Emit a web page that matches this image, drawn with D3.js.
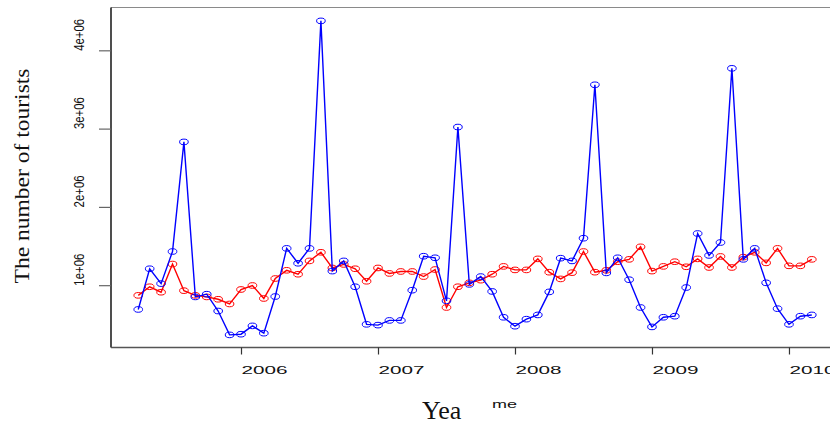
<!DOCTYPE html>
<html>
<head>
<meta charset="utf-8">
<script src="https://cdn.jsdelivr.net/npm/d3@7"></script>
<style>
  body { margin: 0; background: #fff; }
  svg { display: block; }
</style>
</head>
<body>
<svg id="drawing_region"></svg>
<script>
// monthly series, first observation April 2005
const startYear = 2005.25;
const blueSeries = [690000, 1210000, 1020000, 1430000, 2830000, 850000, 885000, 670000, 365000, 374000, 480000, 387000,
                    855000, 1470000, 1280000, 1470000, 4376000, 1180000, 1310000, 980000, 500000, 490000, 550000, 550000,
                    936000, 1370000, 1350000, 800000, 3020000, 1010000, 1110000, 920000, 590000, 476000, 566000, 620000,
                    914000, 1345000, 1310000, 1600000, 3560000, 1157000, 1350000, 1070000, 715000, 467000, 590000, 604000,
                    970000, 1660000, 1380000, 1545000, 3770000, 1330000, 1470000, 1030000, 700000, 500000, 604000, 620000];
const redSeries = [870000, 980000, 910000, 1270000, 930000, 870000, 850000, 820000, 760000, 945000, 996000, 830000,
                   1085000, 1190000, 1140000, 1310000, 1420000, 1220000, 1265000, 1210000, 1050000, 1220000, 1150000, 1175000,
                   1175000, 1110000, 1200000, 715000, 980000, 1030000, 1064000, 1140000, 1240000, 1195000, 1195000, 1336000,
                   1166000, 1080000, 1160000, 1430000, 1166000, 1190000, 1300000, 1330000, 1490000, 1180000, 1240000, 1300000,
                   1235000, 1336000, 1226000, 1367000, 1226000, 1358000, 1420000, 1285000, 1470000, 1247000, 1247000, 1330000];
const xTicks = [2006, 2007, 2008, 2009, 2010];
const yTicks = [1000000, 2000000, 3000000, 4000000];
const yTickLabels = ["1e+06", "2e+06", "3e+06", "4e+06"];

const config = {
    width: 830,
    height: 421,
    box: {left: 111, top: 7.5, right: 838.7, bottom: 347.5}
};

const svg = d3.select('#drawing_region')
    .attr('width', config.width)
    .attr('height', config.height);

const toData = vals => vals.map((v, i) => ({t: startYear + i / 12, v: v}));
const blueData = toData(blueSeries);
const redData = toData(redSeries);

const xscale = d3.scaleLinear()
    .domain([2005.051, 2010.363])
    .range([config.box.left, config.box.right]);

const yscale = d3.scaleLinear()
    .domain([204000, 4547000])
    .range([config.box.bottom, config.box.top]);

// plot frame
svg.append('line')
    .attr('x1', config.box.left).attr('x2', config.box.right)
    .attr('y1', config.box.top).attr('y2', config.box.top)
    .attr('stroke', '#8a8a8a').attr('stroke-width', 1.2);
svg.append('line')
    .attr('x1', config.box.left).attr('x2', config.box.left)
    .attr('y1', config.box.top).attr('y2', config.box.bottom)
    .attr('stroke', '#222').attr('stroke-width', 1.6);
svg.append('line')
    .attr('x1', config.box.left).attr('x2', config.box.right)
    .attr('y1', config.box.bottom).attr('y2', config.box.bottom)
    .attr('stroke', '#555').attr('stroke-width', 1.6);

// x axis
const xaxis = d3.axisBottom(xscale)
    .tickValues(xTicks)
    .tickFormat(d3.format('d'))
    .tickSize(7)
    .tickSizeOuter(0);

const xaxis_group = svg.append('g')
    .attr('transform', `translate(0, ${config.box.bottom})`)
    .call(xaxis);
xaxis_group.select('.domain').remove();
xaxis_group.selectAll('.tick line').attr('stroke', '#333').attr('stroke-width', 1.2);
xaxis_group.selectAll('.tick text')
    .attr('y', 26)
    .attr('dy', 0)
    .attr('text-anchor', 'start')
    .attr('textLength', 46)
    .attr('lengthAdjust', 'spacingAndGlyphs')
    .style('font-family', '"Liberation Sans", Arial, sans-serif')
    .style('font-size', '11px')
    .attr('fill', '#111');

// y axis
const yaxis = d3.axisLeft(yscale)
    .tickValues(yTicks)
    .tickFormat((d, i) => yTickLabels[i])
    .tickSize(12)
    .tickSizeOuter(0);

const yaxis_group = svg.append('g')
    .attr('transform', `translate(${config.box.left}, 0)`)
    .call(yaxis);
yaxis_group.select('.domain').remove();
yaxis_group.selectAll('.tick line').attr('stroke', '#666').attr('stroke-width', 1.2);
yaxis_group.selectAll('.tick text')
    .attr('x', null).attr('dy', null)
    .attr('transform', 'translate(-27, 0) rotate(-90)')
    .attr('text-anchor', 'start')
    .attr('textLength', 32)
    .attr('lengthAdjust', 'spacingAndGlyphs')
    .style('font-family', '"Liberation Sans Narrow", "Liberation Sans", Arial, sans-serif')
    .style('font-size', '15.5px')
    .attr('fill', '#111');

// axis titles
svg.append('text')
    .attr('transform', 'translate(29, 176) rotate(-90)')
    .attr('text-anchor', 'middle')
    .attr('textLength', 215)
    .attr('lengthAdjust', 'spacingAndGlyphs')
    .style('font-family', '"Liberation Serif", "DejaVu Serif", serif')
    .style('font-size', '21px')
    .attr('fill', '#111')
    .text('The number of tourists');

svg.append('text')
    .attr('x', 422).attr('y', 419)
    .style('font-family', '"Liberation Serif", "DejaVu Serif", serif')
    .style('font-size', '26px')
    .attr('fill', '#111')
    .text('Yea');

svg.append('text')
    .attr('x', 492).attr('y', 408)
    .attr('textLength', 25)
    .attr('lengthAdjust', 'spacingAndGlyphs')
    .style('font-family', '"Liberation Sans", Arial, sans-serif')
    .style('font-size', '11px')
    .attr('fill', '#111')
    .text('me');

// series
const line = d3.line()
    .x(d => xscale(d.t))
    .y(d => yscale(d.v));

function drawSeries(data, color) {
    const g = svg.append('g');
    g.append('path')
        .datum(data)
        .attr('d', line)
        .attr('fill', 'none')
        .attr('stroke', color)
        .attr('stroke-width', 1.4);
    g.selectAll('ellipse')
        .data(data)
        .join('ellipse')
        .attr('cx', d => xscale(d.t))
        .attr('cy', d => yscale(d.v))
        .attr('rx', 4.3)
        .attr('ry', 2.8)
        .attr('fill', 'none')
        .attr('stroke', color)
        .attr('stroke-width', 1);
}

drawSeries(redData, '#ff0000');
drawSeries(blueData, '#0000ff');
</script>
</body>
</html>
